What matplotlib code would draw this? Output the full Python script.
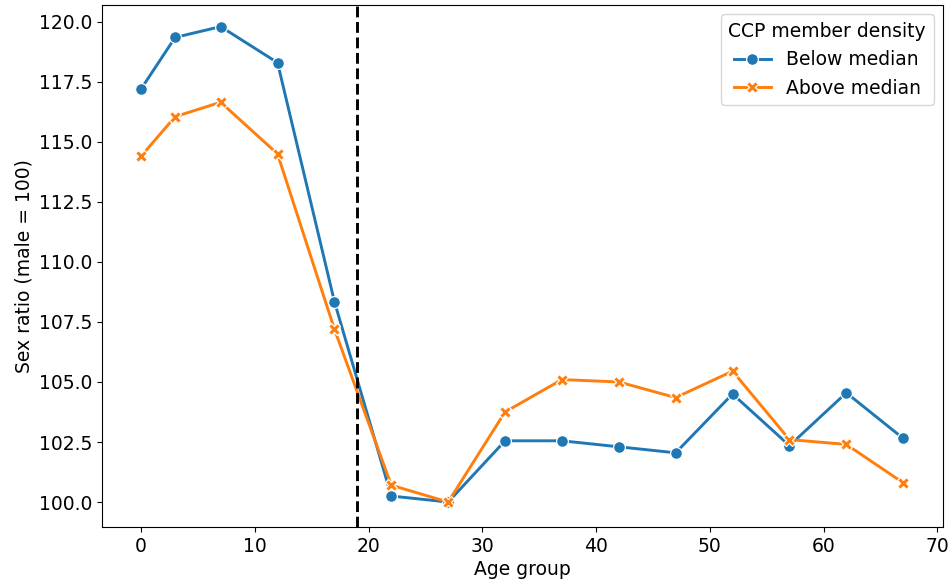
import matplotlib
matplotlib.use("Agg")
import matplotlib.pyplot as plt

# Age groups and sex ratios (male = 100) by CCP member density
age_group = [0, 3, 7, 12, 17, 22, 27, 32, 37, 42, 47, 52, 57, 62, 67]
below_median = [117.2, 119.35, 119.8, 118.3, 108.35, 100.25, 100.0, 102.55,
                102.55, 102.3, 102.05, 104.5, 102.35, 104.55, 102.65]
above_median = [114.4, 116.05, 116.65, 114.5, 107.2, 100.7, 100.0, 103.75,
                105.1, 105.0, 104.35, 105.45, 102.6, 102.4, 100.8]
cutoff_age = 19

fs = 13.5
fig, ax = plt.subplots(figsize=(9.52, 5.88), dpi=100)
fig.subplots_adjust(left=102/952, right=943/952, top=1-5/588, bottom=1-527/588)

ax.plot(age_group, below_median, color='#1f77b4', marker='o', markersize=8.5,
        markeredgecolor='white', markeredgewidth=0.9, linewidth=2.1,
        label='Below median')
ax.plot(age_group, above_median, color='#ff7f0e', marker='X', markersize=8.5,
        markeredgecolor='white', markeredgewidth=0.9, linewidth=2.1,
        label='Above median')
ax.axvline(cutoff_age, color='black', linestyle='--', linewidth=2.1)

ax.set_xlabel('Age group', fontsize=fs, labelpad=3)
ax.set_ylabel('Sex ratio (male = 100)', fontsize=fs)
ax.tick_params(labelsize=fs)
ax.set_xlim(-3.43, 70.5)
ax.set_ylim(98.96, 120.7)
ax.legend(title='CCP member density', loc='upper right', fontsize=fs,
          title_fontsize=fs)

fig.savefig('out.png')
